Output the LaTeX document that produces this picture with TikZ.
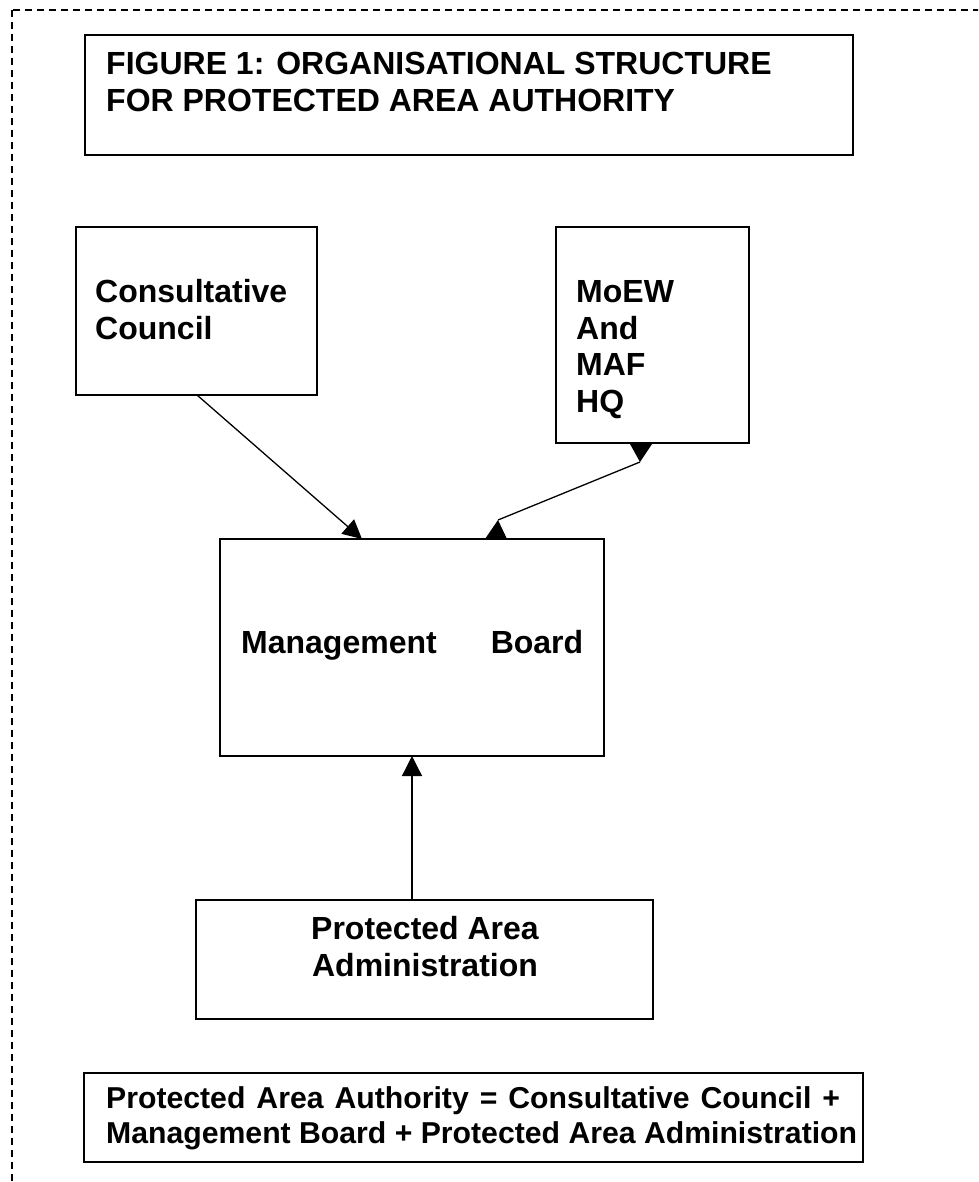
\documentclass[tikz,border=0pt]{standalone}
\usepackage{fontspec}
\setmainfont{Liberation Sans}
\usetikzlibrary{arrows.meta,calc}
\begin{document}
\begin{tikzpicture}[x=1pt,y=-1pt,
  box/.style={draw,line width=1.7pt,inner sep=0pt,outer sep=0pt,anchor=north west},
  lbl/.style={inner sep=0pt,anchor=north west,align=left,font=\fontsize{32}{36.8}\selectfont\bfseries},
  conn/.style={line width=1.3pt},
  border/.style={dash pattern=on 7pt off 5pt,line width=1.3pt}]
\useasboundingbox (0,0) rectangle (978,1182);
\begin{scope}
  \clip (0,0) rectangle (978,1182);
  \draw[border] (12,10) rectangle (1000,1210);
\end{scope}
% boxes
\node[box,minimum width=768pt,minimum height=120pt] (title) at (85,35) {};
\node[box,minimum width=241pt,minimum height=168pt] (cc) at (76,227) {};
\node[box,minimum width=193pt,minimum height=216pt] (moew) at (556,227) {};
\node[box,minimum width=384pt,minimum height=217pt] (mb) at (220,539) {};
\node[box,minimum width=457pt,minimum height=119pt] (paa) at (196,900) {};
\node[box,minimum width=779pt,minimum height=89pt] (eq) at (84,1073) {};
% texts
\node[lbl] (titletext) at (106,52) {FIGURE 1: ORGANISATIONAL STRUCTURE\\FOR PROTECTED AREA AUTHORITY};
\node[lbl] (cctext) at (95,279) {Consultative\\Council};
\node[lbl] (moewtext) at (576,280) {MoEW\\And\\MAF\\HQ};
\node[lbl] (mbtext) at (241,630) {Management\hspace{54pt}Board};
\node[lbl,anchor=north,align=center] (paatext) at (425,916) {Protected Area\\Administration};
\node[lbl,font=\fontsize{30.2}{35}\selectfont\bfseries] (eqtext) at (106,1086) {Protected\hspace{11pt}Area\hspace{11pt}Authority\hspace{11pt}=\hspace{11pt}Consultative\hspace{11pt}Council\hspace{11pt}+\\Management Board + Protected Area Administration};
% connectors
\draw[conn,-{Triangle[length=19pt,width=19pt]}] ($(cc.south west)+(121,0)$) -- ($(mb.north west)+(142,0)$);
\draw[conn,-{Triangle[length=20pt,width=20pt]}] ($(paa.north west)+(216,0)$) -- ($(mb.south west)+(192,0)$);
\coordinate (a1) at ($(mb.north west)+(278,-19)$);
\coordinate (a2) at ($(moew.south west)+(84,19)$);
\draw[conn] (a1) -- (a2);
\fill (a1) -- ++(-13,19) -- ++(22,0) -- cycle;
\fill (a2) -- ++(-10,-18) -- ++(22,0) -- cycle;
\end{tikzpicture}
\end{document}
